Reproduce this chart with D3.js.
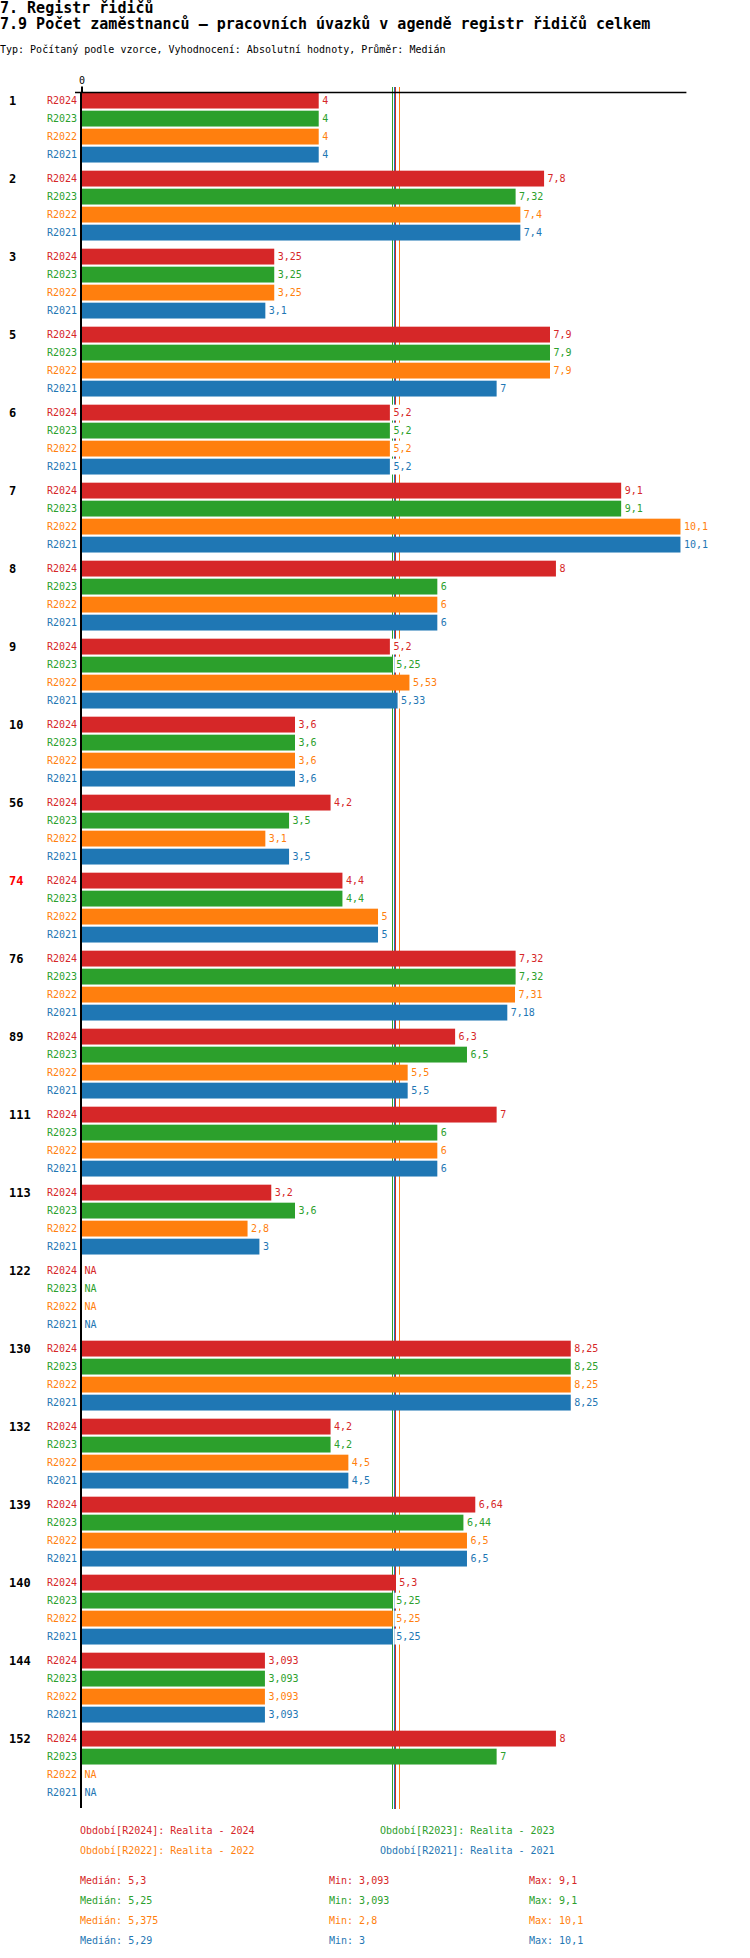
<!DOCTYPE html>
<html>
<head>
<meta charset="utf-8">
<script src="https://cdn.jsdelivr.net/npm/d3@7"></script>
<style>
body { margin: 0; background: #fff; }
text { font-family: "DejaVu Sans Mono", monospace; }
</style>
</head>
<body>
<div id="chart"></div>
<script>
// data
var categories = ["1", "2", "3", "5", "6", "7", "8", "9", "10", "56", "74", "76", "89", "111", "113", "122", "130", "132", "139", "140", "144", "152"];
var series = ["R2024", "R2023", "R2022", "R2021"];
var r2024 = [4, 7.8, 3.25, 7.9, 5.2, 9.1, 8, 5.2, 3.6, 4.2, 4.4, 7.32, 6.3, 7, 3.2, null, 8.25, 4.2, 6.64, 5.3, 3.093, 8];
var r2023 = [4, 7.32, 3.25, 7.9, 5.2, 9.1, 6, 5.25, 3.6, 3.5, 4.4, 7.32, 6.5, 6, 3.6, null, 8.25, 4.2, 6.44, 5.25, 3.093, 7];
var r2022 = [4, 7.4, 3.25, 7.9, 5.2, 10.1, 6, 5.53, 3.6, 3.1, 5, 7.31, 5.5, 6, 2.8, null, 8.25, 4.5, 6.5, 5.25, 3.093, null];
var r2021 = [4, 7.4, 3.1, 7, 5.2, 10.1, 6, 5.33, 3.6, 3.5, 5, 7.18, 5.5, 6, 3, null, 8.25, 4.5, 6.5, 5.25, 3.093, null];
var seriesValues = [r2024, r2023, r2022, r2021];
var legendNames = ["Období[R2024]: Realita - 2024", "Období[R2023]: Realita - 2023", "Období[R2022]: Realita - 2022", "Období[R2021]: Realita - 2021"];
var xTicks = [0];
var highlighted = "74";

var colors = ["#d62728", "#2ca02c", "#ff7f0e", "#1f77b4"];
var ink = "#000000";

var svg = d3.select("#chart")
    .append("svg")
    .attr("width", 750)
    .attr("height", 1958);

function fmt(v) {
    return String(+v.toFixed(3)).replace(".", ",");
}

// titles
svg.append("text").attr("x", 0).attr("y", 13)
    .attr("font-size", "15px").attr("font-weight", "bold").attr("fill", ink)
    .text("7. Registr řidičů");
svg.append("text").attr("x", 0).attr("y", 29)
    .attr("font-size", "15px").attr("font-weight", "bold").attr("fill", ink)
    .text("7.9 Počet zaměstnanců – pracovních úvazků v agendě registr řidičů celkem");
svg.append("text").attr("x", 0).attr("y", 53)
    .attr("font-size", "10px").attr("fill", ink)
    .text("Typ: Počítaný podle vzorce, Vyhodnocení: Absolutní hodnoty, Průměr: Medián");

var x = d3.scaleLinear().domain([0, 10.2]).range([81.5, 686.4]);
var y0 = d3.scaleBand().domain(categories).range([91.6, 91.6 + categories.length * 78]);
var y1 = d3.scaleBand().domain(series).range([0, 72]).paddingInner(0.12).paddingOuter(0.06);
var plotBottom = 1808;

// median lines (behind the bars)
var medians = seriesValues.map(function (v) { return d3.median(v.filter(function (d) { return d !== null; })); });
for (var s = 0; s < series.length; s++) {
    svg.append("line")
        .attr("x1", Math.round(x(medians[s])) - 0.5)
        .attr("x2", Math.round(x(medians[s])) - 0.5)
        .attr("y1", 87)
        .attr("y2", plotBottom + 1)
        .attr("stroke", colors[s])
        .attr("stroke-width", 1);
}

// bars
for (var s = 0; s < series.length; s++) {
    var vals = seriesValues[s];
    for (var i = 0; i < categories.length; i++) {
        var barTop = y0(categories[i]) + y1(series[s]);
        var mid = barTop + y1.bandwidth() / 2;
        svg.append("text")
            .attr("x", 77)
            .attr("y", mid)
            .attr("dy", "0.35em")
            .attr("text-anchor", "end")
            .attr("font-size", "10px")
            .attr("fill", colors[s])
            .text(series[s]);
        var labelX = x(0) + 3;
        var label = "NA";
        if (vals[i] !== null) {
            svg.append("rect")
                .attr("x", x(0))
                .attr("y", barTop)
                .attr("width", x(vals[i]) - x(0))
                .attr("height", y1.bandwidth())
                .attr("fill", colors[s]);
            labelX = x(vals[i]) + 3.5;
            label = fmt(vals[i]);
        }
        var bg = svg.append("rect")
            .attr("x", labelX - 2)
            .attr("y", barTop)
            .attr("height", y1.bandwidth())
            .attr("fill", "#ffffff");
        var t = svg.append("text")
            .attr("x", labelX)
            .attr("y", mid)
            .attr("dy", "0.35em")
            .attr("font-size", "10px")
            .attr("fill", colors[s])
            .text(label);
        bg.attr("width", t.node().getComputedTextLength() + 3);
    }
}

// category labels
for (var i = 0; i < categories.length; i++) {
    svg.append("text")
        .attr("x", 9)
        .attr("y", y0(categories[i]) + y1(series[0]) + y1.bandwidth() / 2)
        .attr("dy", "0.35em")
        .attr("font-size", "12px")
        .attr("font-weight", "bold")
        .attr("fill", categories[i] === highlighted ? "#ff0000" : ink)
        .text(categories[i]);
}

// top axis
var axis = svg.append("g")
    .attr("transform", "translate(0,92.5)")
    .call(d3.axisTop(x).tickValues(xTicks).tickSizeOuter(0).tickSize(6).tickFormat(function (d) { return String(d); }));
axis.select(".domain")
    .attr("d", "M" + (x(0) - 6.5) + ",0H" + x.range()[1])
    .attr("stroke", ink)
    .attr("stroke-width", 1.3);
axis.selectAll(".tick line").attr("stroke", ink).attr("stroke-width", 2);
axis.selectAll(".tick text")
    .attr("font-family", "DejaVu Sans Mono, monospace")
    .attr("font-size", "10px")
    .attr("fill", ink)
    .attr("y", -9)
    .attr("dy", 0);

// zero line
svg.append("line")
    .attr("x1", x(0) - 0.5)
    .attr("x2", x(0) - 0.5)
    .attr("y1", 92)
    .attr("y2", plotBottom)
    .attr("stroke", ink)
    .attr("stroke-width", 2);

// legend
var legendX = [80, 380, 80, 380];
var legendY = [1834, 1834, 1854, 1854];
for (var s = 0; s < series.length; s++) {
    svg.append("text")
        .attr("x", legendX[s])
        .attr("y", legendY[s])
        .attr("font-size", "10px")
        .attr("fill", colors[s])
        .text(legendNames[s]);
}

// stats
for (var s = 0; s < series.length; s++) {
    var vals = seriesValues[s].filter(function (d) { return d !== null; });
    var yy = 1884 + s * 20;
    svg.append("text").attr("x", 80).attr("y", yy)
        .attr("font-size", "10px").attr("fill", colors[s])
        .text("Medián: " + fmt(d3.median(vals)));
    svg.append("text").attr("x", 329).attr("y", yy)
        .attr("font-size", "10px").attr("fill", colors[s])
        .text("Min: " + fmt(d3.min(vals)));
    svg.append("text").attr("x", 529).attr("y", yy)
        .attr("font-size", "10px").attr("fill", colors[s])
        .text("Max: " + fmt(d3.max(vals)));
}
</script>
</body>
</html>
